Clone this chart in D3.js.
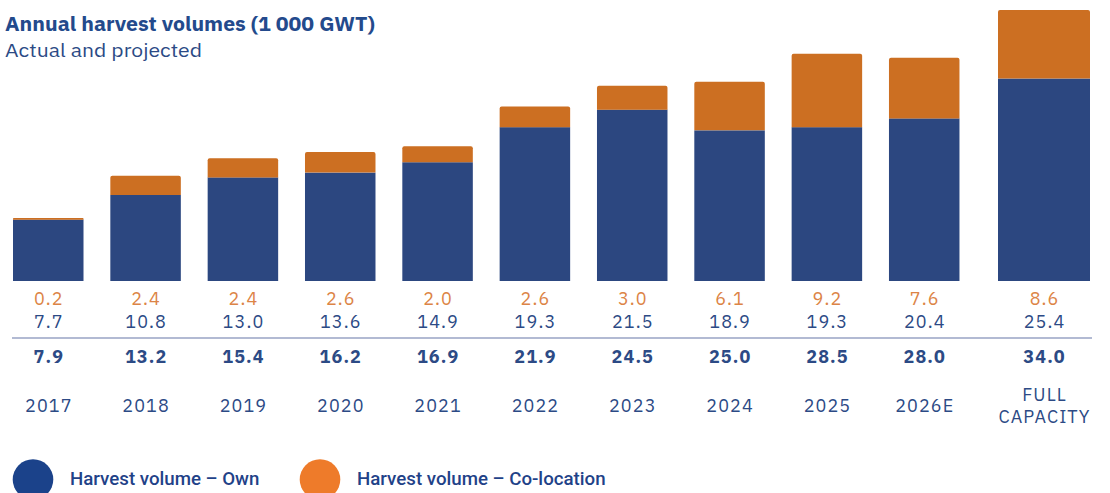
<!DOCTYPE html>
<html><head><meta charset="utf-8">
<script src="https://cdn.jsdelivr.net/npm/d3@7/dist/d3.min.js"></script>
<style>body{margin:0;background:#fff;} svg{display:block;}</style>
</head><body>
<svg id="c" width="1110" height="493"></svg>
<script>
const categories = ["2017","2018","2019","2020","2021","2022","2023","2024","2025","2026E","FULL CAPACITY"];
const ownValues = [7.7,10.8,13.0,13.6,14.9,19.3,21.5,18.9,19.3,20.4,25.4];
const colocValues = [0.2,2.4,2.4,2.6,2.0,2.6,3.0,6.1,9.2,7.6,8.6];
const totalLabels = ["7.9","13.2","15.4","16.2","16.9","21.9","24.5","25.0","28.5","28.0","34.0"];
const ownLabels = ["7.7","10.8","13.0","13.6","14.9","19.3","21.5","18.9","19.3","20.4","25.4"];
const colocLabels = ["0.2","2.4","2.4","2.6","2.0","2.6","3.0","6.1","9.2","7.6","8.6"];
const seriesNames = ["Harvest volume – Own","Harvest volume – Co-location"];

const NAVY = "#2c4780", ORANGE = "#cc6f22", TXT = "#2c4a85", OLAB = "#dc8446";
const svg = d3.select("#c");
const font = "'IBM Plex Sans','Noto Sans',sans-serif";

// title
svg.append("text").attr("x",5).attr("y",31).attr("font-family",font).attr("font-weight",700)
  .attr("font-size",19.5).attr("fill","#234a8c")
  .attr("textLength",370).attr("lengthAdjust","spacingAndGlyphs")
  .text("Annual harvest volumes (1 000 GWT)");
svg.append("text").attr("x",5).attr("y",57).attr("font-family",font)
  .attr("font-size",19.5).attr("fill","#2c4a85")
  .attr("textLength",197).attr("lengthAdjust","spacingAndGlyphs")
  .text("Actual and projected");

const base = 281;
const y = d3.scaleLinear().domain([0,34]).range([base, 10]);
const regular = categories.slice(0,10);
const step = 97.33, pin = 1 - 70.5/step, pout = 0.2;
const r0 = 13 - step*pout;
const x = d3.scaleBand().domain(regular)
  .range([r0, r0 + step*(regular.length - pin + 2*pout)])
  .paddingInner(pin).paddingOuter(pout);
function cx(i){ return i < 10 ? x(categories[i]) + x.bandwidth()/2 : 1044; }
function wid(i){ return i < 10 ? x.bandwidth() : 92; }

const data = categories.map((c,i)=>({c,i,own:ownValues[i],col:colocValues[i]}));

// own bars
svg.append("g").selectAll("rect").data(data).join("rect")
  .attr("x",d=>cx(d.i)-wid(d.i)/2).attr("width",d=>wid(d.i))
  .attr("y",d=>y(d.own)).attr("height",d=>base - y(d.own)).attr("fill",NAVY);

// colocation bars with small rounded top
svg.append("g").selectAll("path").data(data).join("path")
  .attr("fill",ORANGE)
  .attr("d",d=>{
    const x0 = cx(d.i)-wid(d.i)/2, x1 = x0+wid(d.i);
    const yt = y(d.own+d.col), yb = y(d.own);
    const r = Math.min(2, (yb-yt)/2);
    return `M${x0},${yb}L${x0},${yt+r}Q${x0},${yt} ${x0+r},${yt}L${x1-r},${yt}Q${x1},${yt} ${x1},${yt+r}L${x1},${yb}Z`;
  });

// labels
const fs = 18, ls = 1.1;
const lg = svg.append("g").attr("font-family",font).attr("text-anchor","middle").attr("letter-spacing",ls);
lg.selectAll(".co").data(data).join("text").attr("x",d=>cx(d.i)+ls/2).attr("y",305)
  .attr("font-size",fs).attr("fill",OLAB).text(d=>colocLabels[d.i]);
lg.selectAll(".ow").data(data).join("text").attr("x",d=>cx(d.i)+ls/2).attr("y",328)
  .attr("font-size",fs).attr("fill",TXT).text(d=>ownLabels[d.i]);
lg.selectAll(".to").data(data).join("text").attr("x",d=>cx(d.i)+ls/2).attr("y",363)
  .attr("font-size",fs).attr("font-weight",700).attr("fill",TXT).text(d=>totalLabels[d.i]);
lg.selectAll(".yr").data(data).join("text").attr("x",d=>cx(d.i)).attr("y",d=> d.i<10 ? 412 : 401)
  .attr("font-size",fs).attr("fill",TXT)
  .each(function(d){
    const words = d.c === "FULL CAPACITY" ? ["FULL","CAPACITY"] : [d.c];
    d3.select(this).selectAll("tspan").data(words).join("tspan")
      .attr("x",cx(d.i)+ls/2).attr("dy",(w,k)=>k===0?0:22).text(w=>w);
  });

svg.append("line").attr("x1",12).attr("x2",1092).attr("y1",338).attr("y2",338)
  .attr("stroke","#98a3c4").attr("stroke-width",1.5);

// legend
const legCol = ["#1b428a","#ee7b2a"];
const legX = [33, 320];
const leg = svg.append("g");
seriesNames.forEach((n,k)=>{
  leg.append("circle").attr("cx",legX[k]).attr("cy",479.5).attr("r",20.3).attr("fill",legCol[k]);
  leg.append("text").attr("x",legX[k]+37).attr("y",485).attr("font-family","'Roboto',sans-serif")
    .attr("font-weight",500).attr("font-size",18.7).attr("fill","#1f4288").text(n);
});
</script>
</body></html>
